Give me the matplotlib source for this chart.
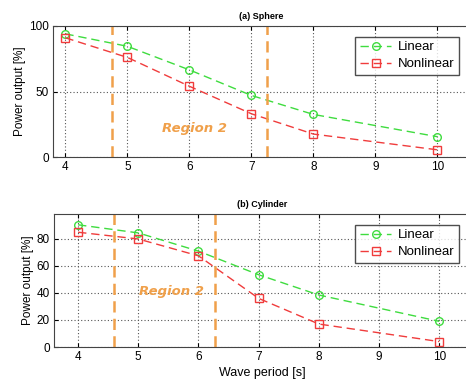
import matplotlib
matplotlib.use("Agg")
import matplotlib.pyplot as plt

plt.rcParams['font.family'] = ['Liberation Sans', 'DejaVu Sans']

# wave periods [s]
periods = [4, 5, 6, 7, 8, 10]

# (a) Sphere
sphere_linear = [94, 84.5, 66.5, 47, 32.5, 15.5]
sphere_nonlinear = [91, 76, 54, 33, 17.5, 5.5]
sphere_region = [4.75, 7.25]

# (b) Cylinder
cyl_linear = [90.5, 84.5, 71, 53.5, 38.5, 19]
cyl_nonlinear = [85, 80, 67.5, 36, 17, 4]
cyl_region = [4.6, 6.27]

green = '#3fdc3f'
red = '#f03c3c'
orange = '#f0a04a'

W, H = 466, 387
fig = plt.figure(figsize=(W / 100, H / 100), dpi=100)


def px_axes(left, top, right, bottom):
    return fig.add_axes([left / W, 1 - bottom / H, (right - left) / W, (bottom - top) / H])


def panel(ax, lin, nonlin, region, title, region_xy):
    ax.plot(periods, lin, '--o', color=green, mfc='none', mec=green, ms=5.5, mew=1.0,
            lw=1.0, dashes=(6, 3.5), label='Linear')
    ax.plot(periods, nonlin, '--s', color=red, mfc='none', mec=red, ms=5.5, mew=1.0,
            lw=1.0, dashes=(6, 3.5), label='Nonlinear')
    for xv in region:
        ax.axvline(xv, color=orange, lw=1.8, dashes=(4.5, 2.5))
    ax.text(region_xy[0], region_xy[1], 'Region 2', color=orange, fontsize=9.5,
            fontweight='bold', fontstyle='italic', family='DejaVu Sans',
            ha='center', va='center')
    ax.grid(True, color='#555555', linestyle=(0, (1, 2)), lw=0.8)
    ax.set_xticks([4, 5, 6, 7, 8, 9, 10])
    ax.tick_params(direction='in', top=True, right=True, labelsize=8.5, length=3, pad=3)
    for s in ax.spines.values():
        s.set_color('#444444')
    ax.set_ylabel('Power output [%]', fontsize=8.5, labelpad=2)
    ax.set_title(title, fontsize=6.5, fontweight='bold', pad=5)
    leg = ax.legend(loc='upper right', fontsize=9.5, fancybox=False, edgecolor='#222222',
                    handlelength=2.4, borderpad=0.35, labelspacing=0.35, handletextpad=0.5,
                    bbox_to_anchor=(0.99, 0.97))
    leg.get_frame().set_linewidth(1.0)


ax1 = px_axes(53, 26, 470, 157)
panel(ax1, sphere_linear, sphere_nonlinear, sphere_region, '(a) Sphere', (6.08, 22))
ax1.set_xlim(3.8, 3.8 + 417 / 62)
ax1.set_ylim(0, 100)
ax1.set_yticks([0, 50, 100])

ax2 = px_axes(54, 214, 470, 347)
panel(ax2, cyl_linear, cyl_nonlinear, cyl_region, '(b) Cylinder', (5.55, 41))
ax2.set_xlim(3.6, 3.6 + 416 / 60.2)
ax2.set_ylim(0, 98.5)
ax2.set_yticks([0, 20, 40, 60, 80])
ax2.set_xlabel('Wave period [s]', fontsize=9, labelpad=3)

fig.savefig('out.png', dpi=100)
